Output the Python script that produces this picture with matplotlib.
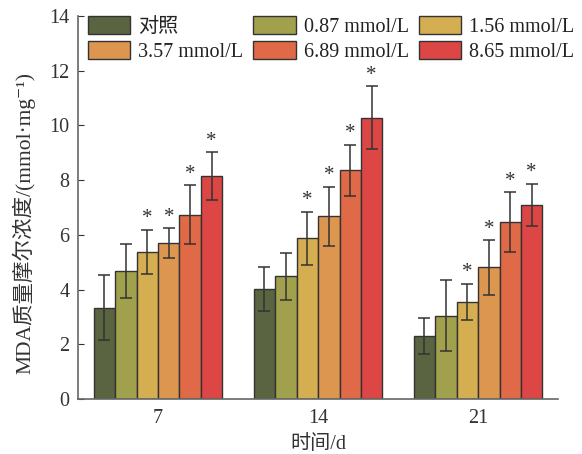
import matplotlib
matplotlib.use("Agg")
import matplotlib.pyplot as plt
import numpy as np

plt.rcParams['font.family'] = ['Liberation Serif', 'Noto Sans CJK SC', 'DejaVu Serif']

days = ['7', '14', '21']
groups = ['对照', '0.87 mmol/L', '1.56 mmol/L', '3.57 mmol/L', '6.89 mmol/L', '8.65 mmol/L']
colors = ['#5a6440', '#a1a04c', '#d4ae50', '#dc9650', '#e06a47', '#dc4645']

ctrl = [3.34, 4.02, 2.30]
c087 = [4.68, 4.48, 3.05]
c156 = [5.38, 5.87, 3.55]
c357 = [5.69, 6.68, 4.81]
c689 = [6.74, 8.36, 6.46]
c865 = [8.16, 10.28, 7.10]

e_ctrl = [1.18, 0.79, 0.67]
e_087 = [1.00, 0.87, 1.30]
e_156 = [0.81, 0.97, 0.66]
e_357 = [0.55, 1.08, 1.00]
e_689 = [1.07, 0.93, 1.10]
e_865 = [0.87, 1.16, 0.77]

sig_ctrl = [False, False, False]
sig_087 = [False, False, False]
sig_156 = [True, True, True]
sig_357 = [True, True, True]
sig_689 = [True, True, True]
sig_865 = [True, True, True]

values = [ctrl, c087, c156, c357, c689, c865]
errors = [e_ctrl, e_087, e_156, e_357, e_689, e_865]
sigs = [sig_ctrl, sig_087, sig_156, sig_357, sig_689, sig_865]

fig = plt.figure(figsize=(5.82, 4.54), dpi=100)
ax = fig.add_axes([0.134, 0.121, 0.825, 0.844])

x = np.arange(len(days))
w = 0.134
handles = []
for i, (vals, errs, sg) in enumerate(zip(values, errors, sigs)):
    pos = x + (i - 2.5) * w
    b = ax.bar(pos, vals, width=w, color=colors[i], edgecolor='#333333', linewidth=1.0,
               label=groups[i], zorder=2)
    handles.append(b)
    ax.errorbar(pos, vals, yerr=errs, fmt='none', ecolor='#333333', elinewidth=1.1,
                capsize=4, capthick=1.1, zorder=3)
    for p, v, e, s in zip(pos, vals, errs, sg):
        if s:
            ax.annotate('*', (p, v + e), xytext=(0, 1), textcoords='offset points',
                        ha='center', va='bottom', fontsize=15, color='#333333')

ax.set_xlim(-0.5, 2.5)
ax.set_ylim(0, 14)
ax.set_yticks(np.arange(0, 15, 2))
ax.set_xticks(x)
ax.set_xticklabels(days)
ax.tick_params(axis='x', length=0, labelsize=14.5, pad=7, colors='#333333')
ax.tick_params(axis='y', direction='in', length=4, labelsize=14.5, pad=6, colors='#333333')
for s in ['top', 'right']:
    ax.spines[s].set_visible(False)
for s in ['left', 'bottom']:
    ax.spines[s].set_color('#666666')
    ax.spines[s].set_linewidth(1.2)

ax.set_xlabel('时间/d', fontsize=14.5, color='#333333', labelpad=5)
ax.set_ylabel('MDA质量摩尔浓度/(mmol·mg⁻¹)', fontsize=15.5, color='#333333')
ax.yaxis.set_label_coords(-0.088, 0.46)

order = [0, 3, 1, 4, 2, 5]
leg = ax.legend([handles[k] for k in order], [groups[k] for k in order],
                loc='upper left', bbox_to_anchor=(88 / 582, 1 - 16 / 454),
                bbox_transform=fig.transFigure, ncol=3, frameon=False,
                fontsize=14.5, handlelength=2.1, handleheight=1.0,
                handletextpad=0.4, columnspacing=0.5, labelspacing=0.2,
                borderpad=0, borderaxespad=0)
for t in leg.get_texts():
    t.set_color('#222222')

fig.savefig('out.png', dpi=100)
